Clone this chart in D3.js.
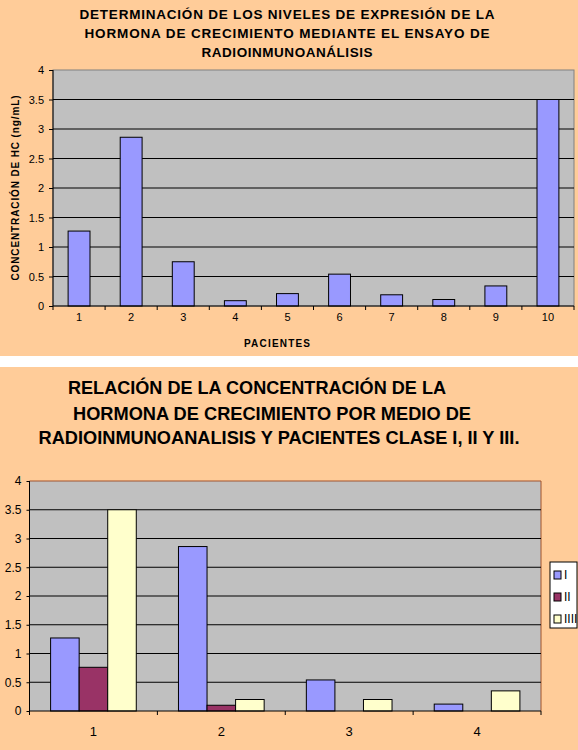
<!DOCTYPE html>
<html>
<head>
<meta charset="utf-8">
<script src="https://cdn.jsdelivr.net/npm/d3@7"></script>
<style>
  body { margin: 0; background: #fff; }
  svg { display: block; font-family: "Liberation Sans", Arial, sans-serif; }
</style>
</head>
<body>
<div id="container"></div>
<script>
// datos del grafico superior
const pacientes = ['1', '2', '3', '4', '5', '6', '7', '8', '9', '10'];
const nivelesHC = [1.27, 2.86, 0.75, 0.09, 0.21, 0.54, 0.19, 0.11, 0.34, 3.5];

// datos del grafico inferior
const grupos = ['1', '2', '3', '4'];
const clases = ['I', 'II', 'IIII'];
const claseI = [1.27, 2.86, 0.54, 0.12];
const claseII = [0.76, 0.10, 0, 0];
const claseIII = [3.5, 0.20, 0.20, 0.35];

const yTicks = [0, 0.5, 1, 1.5, 2, 2.5, 3, 3.5, 4];

const titulo1 = [
    'DETERMINACIÓN DE LOS NIVELES DE EXPRESIÓN DE LA',
    'HORMONA DE CRECIMIENTO MEDIANTE EL ENSAYO DE',
    'RADIOINMUNOANÁLISIS'
];
const titulo2 = [
    'RELACIÓN DE LA CONCENTRACIÓN DE LA',
    'HORMONA DE CRECIMIENTO POR MEDIO DE',
    'RADIOINMUNOANALISIS Y PACIENTES CLASE I, II Y III.'
];

const colores = ['#9999FF', '#993366', '#FFFFCC'];
const peach = '#FFCC99';
const plotGray = '#C0C0C0';

const svg = d3.select('#container').append('svg')
    .attr('width', 578)
    .attr('height', 750);

// fondos
svg.append('rect').attr('x', 0).attr('y', 0).attr('width', 578).attr('height', 356).style('fill', peach);
svg.append('rect').attr('x', 0).attr('y', 367).attr('width', 578).attr('height', 383).style('fill', peach);

// ---------- grafico superior ----------
const area1 = { left: 53, right: 574, top: 70, bottom: 306 };

const x = d3.scaleBand().domain(pacientes)
    .range([area1.left, area1.right])
    .paddingInner(0.58).paddingOuter(0.29);
const y = d3.scaleLinear().domain([0, 4]).range([area1.bottom, area1.top]);

const g1 = svg.append('g');

g1.append('rect')
    .attr('x', area1.left).attr('y', area1.top)
    .attr('width', area1.right - area1.left).attr('height', area1.bottom - area1.top)
    .style('fill', plotGray).style('stroke', '#808080');

g1.append('g').selectAll('line').data(yTicks.filter((d) => d > 0 && d < 4)).enter().append('line')
    .attr('x1', area1.left).attr('x2', area1.right)
    .attr('y1', (d) => y(d)).attr('y2', (d) => y(d))
    .style('stroke', '#000');

g1.append('g').selectAll('rect').data(nivelesHC).enter().append('rect')
    .attr('x', (d, i) => x(pacientes[i]))
    .attr('y', (d) => y(d))
    .attr('width', x.bandwidth())
    .attr('height', (d) => y(0) - y(d))
    .style('fill', colores[0])
    .style('stroke', '#000');

const yAxis1 = g1.append('g').attr('transform', `translate(${area1.left} 0)`)
    .call(d3.axisLeft(y).tickValues(yTicks).tickSize(4).tickPadding(5).tickFormat((d) => String(d)));
yAxis1.selectAll('text').style('font-size', '11px').style('fill', '#000');
yAxis1.select('.domain').remove();
g1.append('line').attr('x1', area1.left).attr('x2', area1.left).attr('y1', area1.top).attr('y2', area1.bottom).style('stroke', '#000');

const xAxis1 = g1.append('g').attr('transform', `translate(0 ${area1.bottom})`)
    .call(d3.axisBottom(x).tickSize(0).tickPadding(7));
xAxis1.selectAll('text').style('font-size', '11px').style('fill', '#000');
xAxis1.select('.domain').remove();
g1.append('line').attr('x1', area1.left).attr('x2', area1.right).attr('y1', area1.bottom).attr('y2', area1.bottom).style('stroke', '#000');
g1.append('g').selectAll('line').data(d3.range(pacientes.length + 1)).enter().append('line')
    .attr('x1', (i) => area1.left + i * x.step()).attr('x2', (i) => area1.left + i * x.step())
    .attr('y1', area1.bottom).attr('y2', area1.bottom + 4)
    .style('stroke', '#000');

g1.append('g').selectAll('text').data(titulo1).enter().append('text')
    .attr('x', 287)
    .attr('y', (d, i) => 18.5 + i * 19.3)
    .attr('text-anchor', 'middle')
    .attr('textLength', (d, i) => [415, 405, 171][i])
    .attr('lengthAdjust', 'spacing')
    .style('font-size', '13.5px').style('font-weight', 'bold').style('fill', '#000')
    .text((d) => d);

g1.append('text')
    .attr('transform', `translate(15 ${(area1.top + area1.bottom) / 2}) rotate(-90)`)
    .attr('text-anchor', 'middle')
    .attr('dy', '0.35em')
    .attr('textLength', 185)
    .attr('lengthAdjust', 'spacing')
    .style('font-size', '10px').style('font-weight', 'bold')
    .text('CONCENTRACIÓN DE HC (ng/mL)');

g1.append('text')
    .attr('x', 277).attr('y', 346.5)
    .attr('text-anchor', 'middle')
    .attr('textLength', 66)
    .attr('lengthAdjust', 'spacing')
    .style('font-size', '10px').style('font-weight', 'bold')
    .text('PACIENTES');

// ---------- grafico inferior ----------
const area2 = { left: 29.5, right: 541, top: 481, bottom: 711 };

const x0 = d3.scaleBand().domain(grupos)
    .range([area2.left, area2.right])
    .paddingInner(0.33).paddingOuter(0.165);
const x1 = d3.scaleBand().domain(clases).range([0, x0.bandwidth()]);
const y2 = d3.scaleLinear().domain([0, 4]).range([area2.bottom, area2.top]);
const color = d3.scaleOrdinal().domain(clases).range(colores);

const series = [claseI, claseII, claseIII];
const barras = [];
grupos.forEach((grp, i) => {
    clases.forEach((c, j) => {
        barras.push({ grupo: grp, clase: c, valor: series[j][i] });
    });
});

const g2 = svg.append('g');

g2.append('rect')
    .attr('x', area2.left).attr('y', area2.top)
    .attr('width', area2.right - area2.left).attr('height', area2.bottom - area2.top)
    .style('fill', plotGray);
g2.append('path')
    .attr('d', `M${area2.left},${area2.top}H${area2.right}V${area2.bottom}`)
    .style('fill', 'none').style('stroke', '#A0522D');

g2.append('g').selectAll('line').data(yTicks.filter((d) => d > 0 && d < 4)).enter().append('line')
    .attr('x1', area2.left).attr('x2', area2.right)
    .attr('y1', (d) => y2(d)).attr('y2', (d) => y2(d))
    .style('stroke', '#000');

g2.append('g').selectAll('rect').data(barras.filter((d) => d.valor > 0)).enter().append('rect')
    .attr('x', (d) => x0(d.grupo) + x1(d.clase))
    .attr('y', (d) => y2(d.valor))
    .attr('width', x1.bandwidth())
    .attr('height', (d) => y2(0) - y2(d.valor))
    .style('fill', (d) => color(d.clase))
    .style('stroke', '#000');

const yAxis2 = g2.append('g').attr('transform', `translate(${area2.left} 0)`)
    .call(d3.axisLeft(y2).tickValues(yTicks).tickSize(3).tickPadding(5).tickFormat((d) => String(d)));
yAxis2.selectAll('text').style('font-size', '12px').style('fill', '#000');
yAxis2.select('.domain').remove();
g2.append('line').attr('x1', area2.left).attr('x2', area2.left).attr('y1', area2.top).attr('y2', area2.bottom).style('stroke', '#000');

const xAxis2 = g2.append('g').attr('transform', `translate(0 ${area2.bottom})`)
    .call(d3.axisBottom(x0).tickSize(0).tickPadding(16));
xAxis2.selectAll('text').style('font-size', '13px').style('fill', '#000');
xAxis2.select('.domain').remove();
g2.append('line').attr('x1', area2.left).attr('x2', area2.right).attr('y1', area2.bottom).attr('y2', area2.bottom).style('stroke', '#000');
g2.append('g').selectAll('line').data(d3.range(grupos.length + 1)).enter().append('line')
    .attr('x1', (i) => area2.left + i * x0.step()).attr('x2', (i) => area2.left + i * x0.step())
    .attr('y1', area2.bottom).attr('y2', area2.bottom + 4)
    .style('stroke', '#000');

g2.append('g').selectAll('text').data(titulo2).enter().append('text')
    .attr('x', (d, i) => [257, 272, 279][i])
    .attr('y', (d, i) => [394, 419.5, 444][i])
    .attr('text-anchor', 'middle')
    .attr('textLength', (d, i) => [378, 398, 481][i])
    .attr('lengthAdjust', 'spacingAndGlyphs')
    .style('font-size', '18px').style('font-weight', 'bold').style('fill', '#000')
    .text((d) => d);

// leyenda
const leg = g2.append('g').attr('transform', 'translate(550 562)');
leg.append('rect')
    .attr('width', 27).attr('height', 66)
    .style('fill', '#fff').style('stroke', '#000');
const items = leg.selectAll('g').data(clases).enter().append('g')
    .attr('transform', (d, i) => `translate(0 ${13 + i * 22})`);
items.append('rect')
    .attr('x', 4).attr('y', -4).attr('width', 7).attr('height', 8)
    .style('fill', (d) => color(d)).style('stroke', '#000');
items.append('text')
    .attr('x', 14).attr('dy', '0.35em')
    .style('font-size', '12px')
    .text((d) => d);
</script>
</body>
</html>
